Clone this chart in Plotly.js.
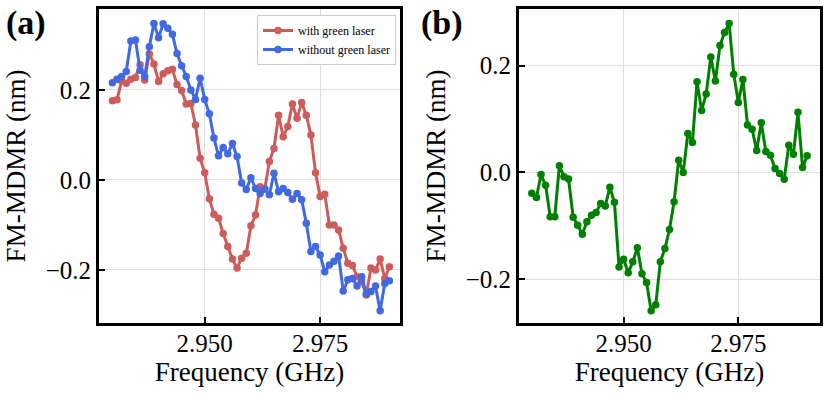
<!DOCTYPE html>
<html>
<head>
<meta charset="utf-8">
<script src="https://cdn.plot.ly/plotly-3.0.1.min.js"></script>
<style>html,body{margin:0;padding:0;background:#fff;}#chart{width:831px;height:396px;}</style>
</head>
<body>
<div id="chart"></div>
<script>
const freq = [2.930, 2.931, 2.932, 2.933, 2.934, 2.935, 2.936, 2.937, 2.938, 2.939,
  2.940, 2.941, 2.942, 2.943, 2.944, 2.945, 2.946, 2.947, 2.948, 2.949,
  2.950, 2.951, 2.952, 2.953, 2.954, 2.955, 2.956, 2.957, 2.958, 2.959,
  2.960, 2.961, 2.962, 2.963, 2.964, 2.965, 2.966, 2.967, 2.968, 2.969,
  2.970, 2.971, 2.972, 2.973, 2.974, 2.975, 2.976, 2.977, 2.978, 2.979,
  2.980, 2.981, 2.982, 2.983, 2.984, 2.985, 2.986, 2.987, 2.988, 2.989, 2.990];

const withGreenLaser = [0.176, 0.178, 0.220, 0.215, 0.224, 0.228, 0.256, 0.222, 0.280, 0.258,
  0.219, 0.236, 0.243, 0.246, 0.212, 0.199, 0.169, 0.170, 0.122, 0.048,
  0.016, -0.042, -0.076, -0.085, -0.119, -0.148, -0.176, -0.196, -0.174, -0.163,
  -0.102, -0.078, -0.015, -0.020, 0.041, 0.070, 0.144, 0.096, 0.119, 0.169,
  0.137, 0.172, 0.144, 0.100, 0.016, -0.037, -0.032, -0.100, -0.100, -0.111,
  -0.152, -0.185, -0.190, -0.215, -0.226, -0.256, -0.196, -0.200, -0.176, -0.219, -0.193];

const withoutGreenLaser = [0.216, 0.224, 0.230, 0.241, 0.309, 0.311, 0.244, 0.230, 0.296, 0.348,
  0.316, 0.347, 0.337, 0.324, 0.281, 0.254, 0.230, 0.200, 0.179, 0.226,
  0.179, 0.147, 0.093, 0.054, 0.072, 0.058, 0.081, 0.052, -0.007, -0.021,
  0.005, -0.019, -0.030, -0.020, -0.033, 0.015, -0.026, -0.019, -0.028, -0.043,
  -0.030, -0.044, -0.096, -0.159, -0.148, -0.167, -0.204, -0.189, -0.181, -0.169,
  -0.247, -0.222, -0.219, -0.236, -0.215, -0.253, -0.248, -0.236, -0.291, -0.230, -0.224];

const panelB = [-0.039, -0.047, -0.004, -0.024, -0.083, -0.083, 0.0125, -0.008, -0.0125, -0.084,
  -0.099, -0.116, -0.0925, -0.080, -0.075, -0.058, -0.063, -0.028, -0.056, -0.177,
  -0.1625, -0.188, -0.1675, -0.141, -0.190, -0.206, -0.259, -0.248, -0.1675, -0.1425,
  -0.107, -0.055, 0.023, 0.000, 0.073, 0.056, 0.170, 0.116, 0.147, 0.216,
  0.171, 0.2375, 0.262, 0.279, 0.184, 0.131, 0.174, 0.089, 0.081, 0.041,
  0.093, 0.039, 0.032, 0.0075, -0.002, -0.013, 0.051, 0.034, 0.1125, 0.009, 0.031];

const seriesNames = ["with green laser", "without green laser"];
const xTicks = [2.950, 2.975];
const yTicks = [-0.2, 0.0, 0.2];
const panelLabels = ["(a)", "(b)"];
const xTitle = "Frequency (GHz)";
const yTitle = "FM-MDMR (nm)";

const FONT = "Liberation Serif";

function trace(y, color, name, xa, ya, showlegend) {
  return {
    x: freq, y: y, type: "scatter", mode: "lines+markers", name: name,
    xaxis: xa, yaxis: ya, showlegend: showlegend,
    line: {color: color, width: 3},
    marker: {color: color, size: 7.5}
  };
}

const data = [
  trace(withGreenLaser, "#cd5c5c", seriesNames[0], "x", "y", true),
  trace(withoutGreenLaser, "#4169e1", seriesNames[1], "x", "y", true),
  trace(panelB, "#008000", "panel b", "x2", "y2", false)
];

function makeX(domain, range, anchor) {
  return {
    domain: domain, range: range, anchor: anchor,
    tickmode: "array", tickvals: xTicks, tickformat: ".3f",
    ticks: "inside", ticklen: 6, tickwidth: 2, tickcolor: "#000",
    ticklabelstandoff: -4,
    showline: true, mirror: true, linewidth: 3, linecolor: "#000",
    showgrid: true, gridcolor: "#dddddd", gridwidth: 1, zeroline: false,
    tickfont: {family: FONT, size: 25, color: "#000"},
    title: {text: xTitle, font: {family: FONT, size: 27, color: "#000"}, standoff: 0}
  };
}
function makeY(domain, range, anchor) {
  return {
    domain: domain, range: range, anchor: anchor,
    tickmode: "array", tickvals: yTicks, tickformat: ".1f",
    ticks: "inside", ticklen: 6, tickwidth: 2, tickcolor: "#000",
    showline: true, mirror: true, linewidth: 3, linecolor: "#000",
    showgrid: true, gridcolor: "#dddddd", gridwidth: 1, zeroline: false,
    tickfont: {family: FONT, size: 25, color: "#000"},
    title: {text: yTitle, font: {family: FONT, size: 27, color: "#000"}, standoff: 13}
  };
}

const W = 831, H = 396;
const layout = {
  width: W, height: H,
  font: {family: FONT, color: "#000"},
  margin: {l: 0, r: 0, t: 0, b: 0},
  paper_bgcolor: "#fff", plot_bgcolor: "#fff",
  showlegend: true,
  legend: {
    x: 396 / W, y: 1 - 15 / H, xanchor: "right", yanchor: "top",
    bgcolor: "#fff", bordercolor: "#cccccc", borderwidth: 1,
    font: {family: FONT, size: 12, color: "#000"},
    itemwidth: 30, tracegroupgap: 0
  },
  xaxis: makeX([99 / W, 400 / W], [2.9271, 2.9923], "y"),
  yaxis: makeY([73 / H, 387 / H], [-0.318, 0.38], "x"),
  xaxis2: makeX([519 / W, 820 / W], [2.9272, 2.9928], "y2"),
  yaxis2: makeY([73 / H, 387 / H], [-0.282, 0.306], "x2"),
  annotations: [
    {text: "<b>" + panelLabels[0] + "</b>", xref: "paper", yref: "paper", x: 4 / W, y: 1 - 2 / H,
     xanchor: "left", yanchor: "top", showarrow: false, font: {family: FONT, size: 34, color: "#000"}},
    {text: "<b>" + panelLabels[1] + "</b>", xref: "paper", yref: "paper", x: 419 / W, y: 1 - 2 / H,
     xanchor: "left", yanchor: "top", showarrow: false, font: {family: FONT, size: 34, color: "#000"}}
  ]
};

Plotly.newPlot("chart", data, layout, {staticPlot: true, displayModeBar: false});
</script>
</body>
</html>
